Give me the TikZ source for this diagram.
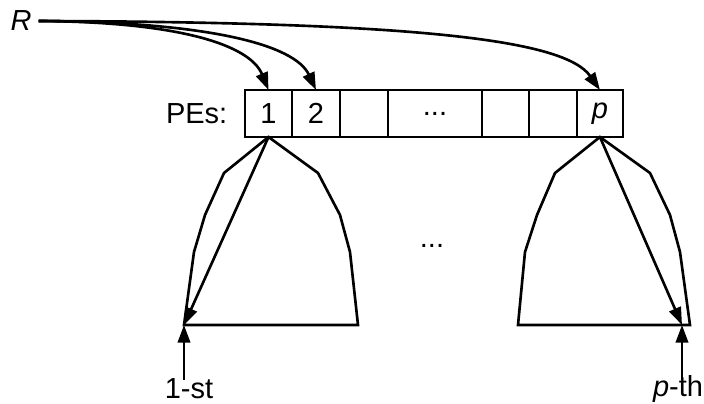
\documentclass[tikz,border=0pt]{standalone}
\usepackage{fontspec}
\setmainfont{Liberation Sans}
\usetikzlibrary{positioning,arrows.meta}

\begin{document}
\begin{tikzpicture}[x=0.02cm, y=-0.02cm, line width=1.5pt,
    font=\fontsize{16.5}{19}\selectfont,
    cell/.style={draw, minimum height=0.94cm, inner sep=0pt, outer sep=0pt},
    arr/.style={-{Triangle[length=10pt, width=7pt]}}]
  \useasboundingbox (0,0) rectangle (704,404);

  % Root
  \node (R) at (21,21) {\textit{R}};

  % Row of PEs
  \node[cell, minimum width=0.94cm] (c1) at (268.5,113.5) {1};
  \node[cell, minimum width=0.96cm, right=0pt of c1] (c2) {2};
  \node[cell, minimum width=0.96cm, right=0pt of c2] (c3) {};
  \node[cell, minimum width=1.88cm, right=0pt of c3] (c4) {...};
  \node[cell, minimum width=0.94cm, right=0pt of c4] (c5) {};
  \node[cell, minimum width=0.96cm, right=0pt of c5] (c6) {};
  \node[cell, minimum width=0.92cm, right=0pt of c6] (cp) {\textit{p}};
  \node[left=6pt of c1] (pes) {PEs:};

  % Broadcast from R
  \draw[arr] (R.east) .. controls (180,22) and (250,45) .. (c1.north);
  \draw[arr] (R.east) .. controls (210,22) and (295,45) .. (c2.north);
  \draw[arr] (R.east) .. controls (420,22) and (565,40) .. (cp.north);

  % First tree
  \coordinate (b1) at (184,325);
  \coordinate (f1) at (184,380);
  \draw (c1.south) -- (224,173) -- (205,215) -- (194,252) -- (b1)
        -- (358,325) -- (350,252) -- (340,215) -- (318,173) -- cycle;
  \draw[arr] (c1.south) -- (b1);
  \draw[arr] (f1) -- (b1);
  \node (first) at (189,389) {1-st};

  % Middle dots
  \node (mid) at (432,246) {...};

  % Last tree
  \coordinate (bp) at (682,325);
  \coordinate (fp) at (682,380);
  \draw (cp.south) -- (555,173) -- (537,215) -- (525,252) -- (518,325)
        -- (690,325) -- (680,252) -- (670,215) -- (650,173) -- cycle;
  \draw[arr] (cp.south) -- (bp);
  \draw[arr] (fp) -- (bp);
  \node (last) at (678,389) {\textit{p}-th};
\end{tikzpicture}
\end{document}
